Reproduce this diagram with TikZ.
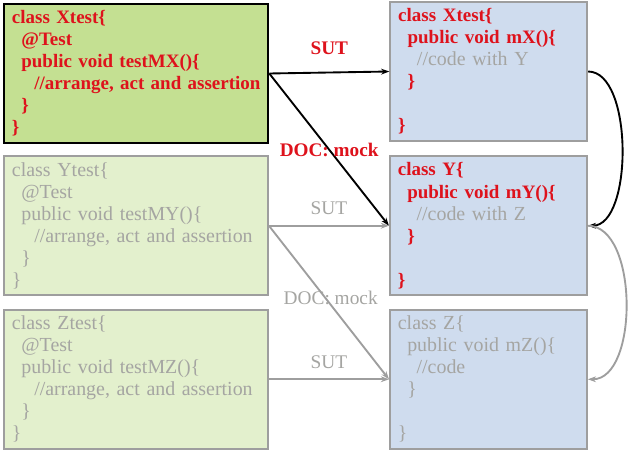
\documentclass[tikz,border=0pt]{standalone}
\usepackage{fontspec}
\setmainfont{Liberation Serif}
\usetikzlibrary{positioning, arrows.meta}
\definecolor{codered}{RGB}{222,18,28}
\definecolor{codegray}{RGB}{165,165,162}
\definecolor{testgreen}{RGB}{196,224,146}
\definecolor{palegreen}{RGB}{227,240,205}
\definecolor{classblue}{RGB}{207,220,238}
\definecolor{edgegray}{RGB}{158,158,158}
\tikzset{
x=0.03cm, y=-0.03cm, % one unit is one pixel of the slide
>={Stealth[length=7pt,width=5pt]},
box/.style={rectangle, draw=edgegray, line width=1.6pt, inner xsep=0.24cm, inner ysep=0pt,
  minimum height=4.17cm, font=\fontsize{17}{18.8}\selectfont, align=left},
testbox/.style={box, fill=palegreen, text width=7.44cm, minimum width=7.92cm, text=codegray},
classbox/.style={box, fill=classblue, text width=5.43cm, minimum width=5.91cm, text=codegray},
activeline/.style={->, black, line width=1.6pt},
passiveline/.style={->, edgegray, line width=1.6pt},
redlabel/.style={text=codered, font=\fontsize{16.4}{17}\selectfont\bfseries},
graylabel/.style={text=codegray, font=\fontsize{16.5}{17}\selectfont},
}
\newcommand{\hot}[1]{\textcolor{codered}{\fontsize{16.2}{18.8}\selectfont\textbf{#1}}}

\begin{document}
\begin{tikzpicture}
    \useasboundingbox (0,0) rectangle (635,453);

    % test classes on the left
    \node[testbox, fill=testgreen, draw=black, line width=2.2pt, text=codered, font=\fontsize{16.2}{18.8}\selectfont\bfseries] (Xtest) at (136,73.5)
        {class Xtest\{\\ \hspace*{8pt}@Test\\ \hspace*{8pt}public void testMX()\{\\ \mbox{\hspace*{19pt}//arrange, act and assertion}\\ \hspace*{8pt}\}\\ \}};
    \node[testbox, below=0.33cm of Xtest] (Ytest)
        {class Ytest\{\\ \hspace*{8pt}@Test\\ \hspace*{8pt}public void testMY()\{\\ \mbox{\hspace*{19pt}//arrange, act and assertion}\\ \hspace*{8pt}\}\\ \}};
    \node[testbox, below=0.38cm of Ytest] (Ztest)
        {class Ztest\{\\ \hspace*{8pt}@Test\\ \hspace*{8pt}public void testMZ()\{\\ \mbox{\hspace*{19pt}//arrange, act and assertion}\\ \hspace*{8pt}\}\\ \}};

    % classes under test on the right
    \node[classbox, right=3.6cm of Xtest, yshift=1.7pt] (X)
        {\hot{class Xtest\{}\\ \hspace*{8pt}\hot{public void mX()\{}\\ \hspace*{16pt}//code with Y\\ \hspace*{8pt}\hot{\}}\\ \mbox{}\\ \hot{\}}};
    \node[classbox, right=3.6cm of Ytest] (Y)
        {\hot{class Y\{}\\ \hspace*{8pt}\hot{public void mY()\{}\\ \hspace*{16pt}//code with Z\\ \hspace*{8pt}\hot{\}}\\ \mbox{}\\ \hot{\}}};
    \node[classbox, right=3.6cm of Ztest] (Z)
        {class Z\{\\ \hspace*{8pt}public void mZ()\{\\ \hspace*{16pt}//code\\ \hspace*{8pt}\}\\ \mbox{}\\ \}};

    \draw[activeline] (Xtest.east) -- node[above=11pt, redlabel] {SUT} (X.west);
    \draw[activeline] (Xtest.east) -- node[pos=0.5, redlabel] {DOC: mock} (Y.west);
    \draw[passiveline] (Ytest.east) -- node[above=5pt, graylabel] {SUT} (Y.west);
    \draw[passiveline] (Ytest.east) -- node[pos=0.47, xshift=0.16cm, graylabel] {DOC: mock} (Z.west);
    \draw[passiveline] (Ztest.east) -- node[above=5pt, graylabel] {SUT} (Z.west);

    \draw[activeline] (X.east) to[out=0, in=0, looseness=0.75] (Y.east);
    \draw[passiveline] (Y.east) to[out=0, in=0, looseness=0.85] (Z.east);
\end{tikzpicture}
\end{document}
